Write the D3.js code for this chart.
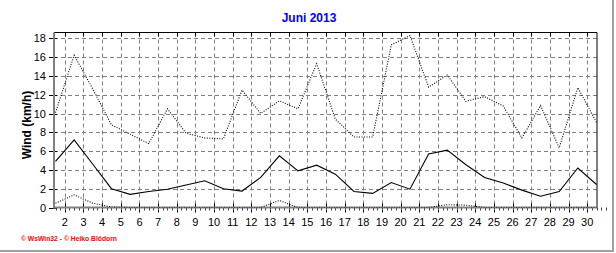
<!DOCTYPE html>
<html>
<head>
<meta charset="utf-8">
<script src="https://cdn.jsdelivr.net/npm/d3@7"></script>
<style>
  body { margin: 0; background: #fff; }
  svg { display: block; font-family: "Liberation Sans", Arial, sans-serif; }
</style>
</head>
<body>
<div id="chart"></div>
<script>
// daily wind values, June 2013 (km/h)
const days = d3.range(1, 31);
const windMax = [10.1, 16.2, 12.6, 8.8, 7.8, 6.8, 10.5, 7.9, 7.4, 7.3,
  12.5, 10.0, 11.35, 10.5, 15.3, 9.4, 7.5, 7.5, 17.3, 18.3,
  12.8, 14.1, 11.3, 11.8, 10.8, 7.4, 10.85, 6.35, 12.75, 9.05];
const windMean = [4.9, 7.2, 4.6, 2.0, 1.4, 1.7, 1.95, 2.4, 2.85, 2.0,
  1.75, 3.2, 5.5, 3.9, 4.5, 3.55, 1.7, 1.5, 2.65, 1.95,
  5.7, 6.1, 4.55, 3.2, 2.6, 1.85, 1.2, 1.7, 4.2, 2.45];
const windMin = [0.45, 1.35, 0.45, 0.05, 0, 0, 0, 0, 0, 0,
  0, 0, 0.75, 0, 0, 0, 0, 0, 0, 0,
  0, 0.3, 0.25, 0, 0, 0, 0, 0, 0, 0];
const xLabels = d3.range(2, 31);
const yTicks = d3.range(0, 19, 2);

const width = 616, height = 253;
const margin = { left: 54, right: 597, top: 32.5, bottom: 207.5 };

const svg = d3.select('#chart')
  .append('svg')
  .attr('width', width)
  .attr('height', height);

const x = d3.scaleLinear().domain([1, 30]).range([55.5, 596.5]);
const y = d3.scaleLinear().domain([0, 18.62]).range([margin.bottom, margin.top]);
const px = v => Math.round(v) + 0.5;

// outer panel edges
svg.append('line').attr('x1', 613).attr('x2', 613).attr('y1', 0).attr('y2', 251)
  .attr('stroke', '#a0a0a0').attr('stroke-width', 2);
svg.append('line').attr('x1', 0).attr('x2', 614).attr('y1', 251).attr('y2', 251)
  .attr('stroke', '#a0a0a0').attr('stroke-width', 2);

svg.append('clipPath').attr('id', 'plot')
  .append('rect')
  .attr('x', margin.left).attr('y', margin.top)
  .attr('width', margin.right - margin.left).attr('height', margin.bottom - margin.top);

// grid
const grid = svg.append('g').attr('stroke', '#808080').attr('stroke-dasharray', '4,3');
grid.selectAll('.hg')
  .data(yTicks.filter(d => d > 0))
  .enter()
  .append('line')
  .attr('x1', margin.left).attr('x2', margin.right)
  .attr('y1', d => px(y(d))).attr('y2', d => px(y(d)));
grid.selectAll('.vg')
  .data(xLabels)
  .enter()
  .append('line')
  .attr('x1', d => px(x(d - 0.5))).attr('x2', d => px(x(d - 0.5)))
  .attr('y1', margin.top).attr('y2', margin.bottom);

// ticks on top border and along the x axis
const ticks = svg.append('g').attr('stroke', '#000');
ticks.selectAll('.tt')
  .data(xLabels)
  .enter()
  .append('line')
  .attr('x1', d => px(x(d - 0.5))).attr('x2', d => px(x(d - 0.5)))
  .attr('y1', margin.top).attr('y2', margin.top + 4);
ticks.selectAll('.bt')
  .data(xLabels)
  .enter()
  .append('line')
  .attr('x1', d => px(x(d - 0.5))).attr('x2', d => px(x(d - 0.5)))
  .attr('y1', margin.bottom - 4).attr('y2', margin.bottom + 5);
ticks.selectAll('.mt')
  .data(d3.range(1, 30.51, 0.25))
  .enter()
  .append('line')
  .attr('x1', d => px(x(d))).attr('x2', d => px(x(d)))
  .attr('y1', margin.bottom).attr('y2', margin.bottom + 3)
  .attr('stroke', '#404040');
ticks.selectAll('.yt')
  .data(yTicks)
  .enter()
  .append('line')
  .attr('x1', margin.left - 5).attr('x2', margin.left + 3)
  .attr('y1', d => px(y(d))).attr('y2', d => px(y(d)));

// frame
svg.append('path')
  .attr('d', `M${margin.left},${margin.top}H${margin.right}V${margin.bottom}`)
  .attr('fill', 'none').attr('stroke', '#000');
svg.append('line')
  .attr('x1', margin.left).attr('x2', margin.left)
  .attr('y1', margin.top).attr('y2', margin.bottom + 1)
  .attr('stroke', '#808080').attr('stroke-width', 2);
svg.append('line')
  .attr('x1', margin.left).attr('x2', margin.right)
  .attr('y1', margin.bottom).attr('y2', margin.bottom)
  .attr('stroke', '#808080').attr('stroke-width', 2);

// series
const line = d3.line().x((d, i) => x(days[i])).y(d => y(d));
const series = [
  { values: windMax, dash: '1,1.5' },
  { values: windMean, dash: null },
  { values: windMin, dash: '1,1.5' }
];
svg.append('g')
  .attr('clip-path', 'url(#plot)')
  .selectAll('path')
  .data(series)
  .enter()
  .append('path')
  .attr('d', d => line(d.values))
  .attr('fill', 'none')
  .attr('stroke', '#000')
  .attr('stroke-width', 1.1)
  .attr('stroke-dasharray', d => d.dash);

// labels
svg.append('g')
  .selectAll('text')
  .data(yTicks)
  .enter()
  .append('text')
  .attr('x', 46)
  .attr('y', d => y(d) + 4)
  .attr('text-anchor', 'end')
  .attr('font-size', 11)
  .text(d => d);

svg.append('g')
  .selectAll('text')
  .data(xLabels)
  .enter()
  .append('text')
  .attr('x', d => x(d - 0.5))
  .attr('y', 226)
  .attr('text-anchor', 'middle')
  .attr('font-size', 11)
  .text(d => d);

svg.append('text')
  .attr('x', 309)
  .attr('y', 22)
  .attr('text-anchor', 'middle')
  .attr('font-size', 12)
  .attr('font-weight', 'bold')
  .attr('fill', '#0000ff')
  .text('Juni 2013');

svg.append('text')
  .attr('transform', 'translate(31,125) rotate(-90)')
  .attr('text-anchor', 'middle')
  .attr('font-size', 12)
  .attr('font-weight', 'bold')
  .text('Wind  (km/h)');

svg.append('text')
  .attr('x', 21)
  .attr('y', 241)
  .attr('font-size', 8)
  .attr('font-weight', 'bold')
  .attr('fill', '#ff0000')
  .attr('textLength', 96)
  .attr('lengthAdjust', 'spacingAndGlyphs')
  .text('© WsWin32 - © Heiko Blödorn');
</script>
</body>
</html>
